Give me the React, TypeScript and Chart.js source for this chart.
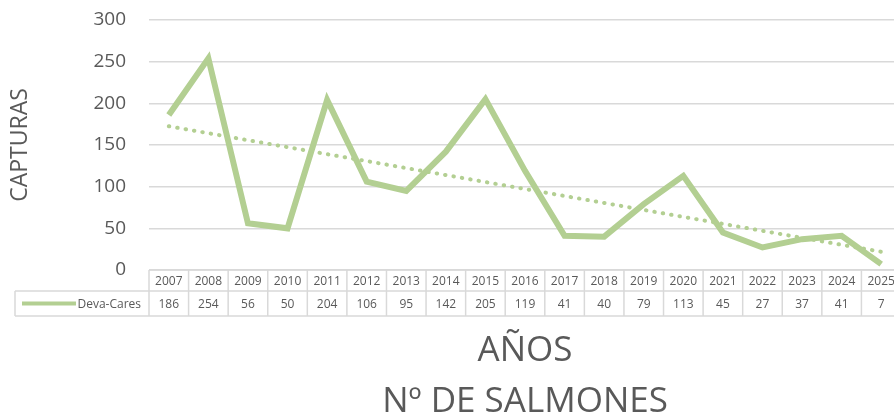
import React, { useEffect, useRef } from "react";
import { Chart, registerables } from "chart.js";

Chart.register(...registerables);

const years = ["2007","2008","2009","2010","2011","2012","2013","2014","2015","2016","2017","2018","2019","2020","2021","2022","2023","2024","2025"];
const devaCares = [186,254,56,50,204,106,95,142,205,119,41,40,79,113,45,27,37,41,7];
const trendStart = 172.5;
const trendEnd = 21.9;
const seriesName = "Deva-Cares";
const yTicks = [0, 50, 100, 150, 200, 250, 300];
const xTitleLines = ["AÑOS", "Nº DE SALMONES"];

const GREEN = "#b3cf92";
const TEXT = "#595959";
const GRID = "#d9d9d9";
const FONT = "'Open Sans', sans-serif";

const tablePlugin = {
  id: "dataTable",
  afterDraw(chart: any) {
    const { ctx, chartArea, scales } = chart;
    const x = scales.x;
    const top = chartArea.bottom;
    const h1 = 21;
    const h2 = 25;
    const w = x.getPixelForValue(1) - x.getPixelForValue(0);
    const left = x.getPixelForValue(0) - w / 2;
    const right = left + w * years.length;
    const legendLeft = 15;
    ctx.save();
    ctx.strokeStyle = GRID;
    ctx.lineWidth = 1.5;
    const line = (x1: number, y1: number, x2: number, y2: number) => {
      ctx.beginPath();
      ctx.moveTo(x1, y1);
      ctx.lineTo(x2, y2);
      ctx.stroke();
    };
    line(left, top, right, top);
    line(legendLeft, top + h1, right, top + h1);
    line(legendLeft, top + h1 + h2, right, top + h1 + h2);
    for (let i = 0; i <= years.length; i++) {
      const xv = left + i * w;
      line(xv, top, xv, top + h1 + h2);
    }
    line(legendLeft, top + h1, legendLeft, top + h1 + h2);

    ctx.fillStyle = TEXT;
    ctx.font = `12px ${FONT}`;
    ctx.textAlign = "center";
    ctx.textBaseline = "middle";
    years.forEach((yr, i) => {
      const cx = x.getPixelForValue(i);
      ctx.fillText(yr, cx, top + h1 / 2 + 1);
      ctx.fillText(String(devaCares[i]), cx, top + h1 + h2 / 2 + 1);
    });
    ctx.textAlign = "right";
    ctx.fillText(seriesName, left - 8, top + h1 + h2 / 2 + 1);
    ctx.strokeStyle = GREEN;
    ctx.lineWidth = 4;
    line(22, top + h1 + h2 / 2, 76, top + h1 + h2 / 2);
    ctx.restore();
  },
};

export default function App() {
  const ref = useRef<HTMLCanvasElement>(null);
  useEffect(() => {
    document.documentElement.style.overflow = "hidden";
    document.body.style.overflow = "hidden";
    const trend = years.map((_, i) => (i === 0 ? trendStart : i === years.length - 1 ? trendEnd : null));
    const chart = new Chart(ref.current!, {
      type: "line",
      data: {
        labels: years,
        datasets: [
          {
            label: seriesName,
            data: devaCares,
            borderColor: GREEN,
            backgroundColor: GREEN,
            borderWidth: 6,
            pointRadius: 0,
            tension: 0,
          },
          {
            label: "Tendencia",
            data: trend,
            borderColor: GREEN,
            borderWidth: 4,
            borderDash: [0.5, 8],
            borderCapStyle: "round",
            pointRadius: 0,
            spanGaps: true,
          },
        ],
      },
      options: {
        responsive: false,
        animation: false,
        layout: { padding: { top: 20, right: 1, left: 0, bottom: 0 } },
        plugins: {
          legend: { display: false },
          tooltip: { enabled: false },
          title: { display: false },
        },
        scales: {
          x: {
            offset: true,
            grid: { display: false, drawTicks: false },
            border: { display: false },
            ticks: { display: false },
            title: {
              display: true,
              text: xTitleLines,
              color: TEXT,
              font: { family: FONT, size: 35, weight: "normal", lineHeight: 51.5 / 35 },
              padding: { top: 55.25, bottom: -13.25 },
            },
          },
          y: {
            min: 0,
            max: 300,
            afterFit: (scale: any) => {
              scale.width = 149;
              scale.paddingTop = 0;
              scale.paddingBottom = 0;
            },
            afterBuildTicks: (scale: any) => {
              scale.ticks = yTicks.map((v) => ({ value: v }));
            },
            grid: { color: GRID, lineWidth: 1.5, drawTicks: false },
            border: { display: false },
            ticks: {
              color: TEXT,
              font: { family: FONT, size: 19 },
              padding: 23,
            },
            title: {
              display: true,
              text: "CAPTURAS",
              color: TEXT,
              font: { family: FONT, size: 23, weight: "normal", lineHeight: 1.2 },
              padding: { top: 7, bottom: 0 },
            },
          },
        },
      },
      plugins: [tablePlugin],
    });
    return () => chart.destroy();
  }, []);
  return (
    <div style={{ position: "fixed", left: 0, top: 0, width: 902, height: 415 }}>
      <canvas ref={ref} width={902} height={415} style={{ width: 902, height: 415 }} />
    </div>
  );
}
